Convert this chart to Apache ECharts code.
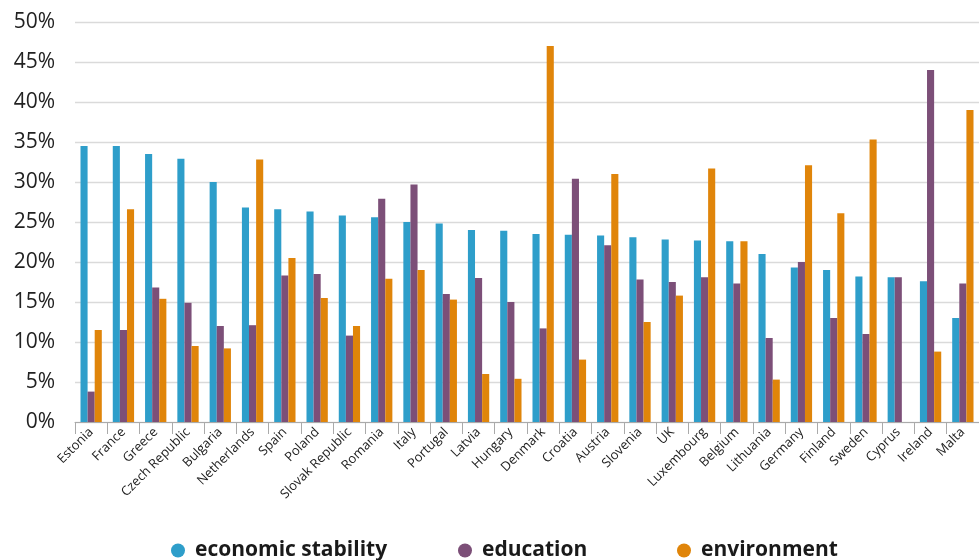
<!DOCTYPE html>
<html>
<head>
<meta charset="utf-8">
<script src="https://cdn.jsdelivr.net/npm/echarts@6/dist/echarts.min.js"></script>
<style>
html,body{margin:0;padding:0;background:#fff;}
#chart{width:979px;height:560px;}
</style>
</head>
<body>
<div id="chart"></div>
<script>
const countries = ["Estonia","France","Greece","Czech Republic","Bulgaria","Netherlands","Spain","Poland","Slovak Republic","Romania","Italy","Portugal","Latvia","Hungary","Denmark","Croatia","Austria","Slovenia","UK","Luxembourg","Belgium","Lithuania","Germany","Finland","Sweden","Cyprus","Ireland","Malta"];
const economicStability = [34.5,34.5,33.5,32.9,30.0,26.8,26.6,26.3,25.8,25.6,25.0,24.8,24.0,23.9,23.5,23.4,23.3,23.1,22.8,22.7,22.6,21.0,19.3,19.0,18.2,18.1,17.6,13.0];
const education = [3.8,11.5,16.8,14.9,12.0,12.1,18.3,18.5,10.8,27.9,29.7,16.0,18.0,15.0,11.7,30.4,22.1,17.8,17.5,18.1,17.3,10.5,20.0,13.0,11.0,18.1,44.0,17.3];
const environment = [11.5,26.6,15.4,9.5,9.2,32.8,20.5,15.5,12.0,17.9,19.0,15.3,6.0,5.4,47.0,7.8,31.0,12.5,15.8,31.7,22.6,5.3,32.1,26.1,35.3,0,8.8,39.0];
const yTicks = [0,5,10,15,20,25,30,35,40,45,50];

const chart = echarts.init(document.getElementById('chart'));
const font = '"Open Sans", "Noto Sans", sans-serif';
function legendAt(name, left) {
  return {
    data: [name], left: left, top: 540, orient: 'horizontal', padding: 0,
    icon: 'circle', itemWidth: 14, itemHeight: 14,
    textStyle: {fontFamily: font, fontSize: 21, fontWeight: 700, color: '#1a1a1a', padding: [0,0,0,5]},
    selectedMode: false
  };
}
chart.setOption({
  animation: false,
  color: ['#2E9ECA', '#7C4F78', '#E0850A'],
  grid: {left: 75, top: 22, bottom: 138, right: -9.6, containLabel: false},
  legend: [legendAt('economic stability', 171), legendAt('education', 458), legendAt('environment', 677)],
  xAxis: {
    type: 'category', data: countries,
    axisLine: {lineStyle: {color: '#aaaaaa', width: 1}},
    axisTick: {show: true, length: 12, lineStyle: {color: '#aaaaaa'}},
    axisLabel: {rotate: 45, fontFamily: font, fontSize: 13, color: '#222', margin: 8, interval: 0}
  },
  yAxis: {
    type: 'value', min: 0, max: 50, interval: 5,
    axisLine: {show: false}, axisTick: {show: false},
    axisLabel: {fontFamily: font, fontSize: 21, color: '#222', margin: 20,
      formatter: v => yTicks.includes(v) ? v + '%' : ''},
    splitLine: {lineStyle: {color: '#dadada', width: 1.3}}
  },
  series: [
    {name: 'economic stability', type: 'bar', data: economicStability, barGap: '0%', barCategoryGap: '34%'},
    {name: 'education', type: 'bar', data: education, barGap: '0%', barCategoryGap: '34%'},
    {name: 'environment', type: 'bar', data: environment, barGap: '0%', barCategoryGap: '34%'}
  ]
});
</script>
</body>
</html>
